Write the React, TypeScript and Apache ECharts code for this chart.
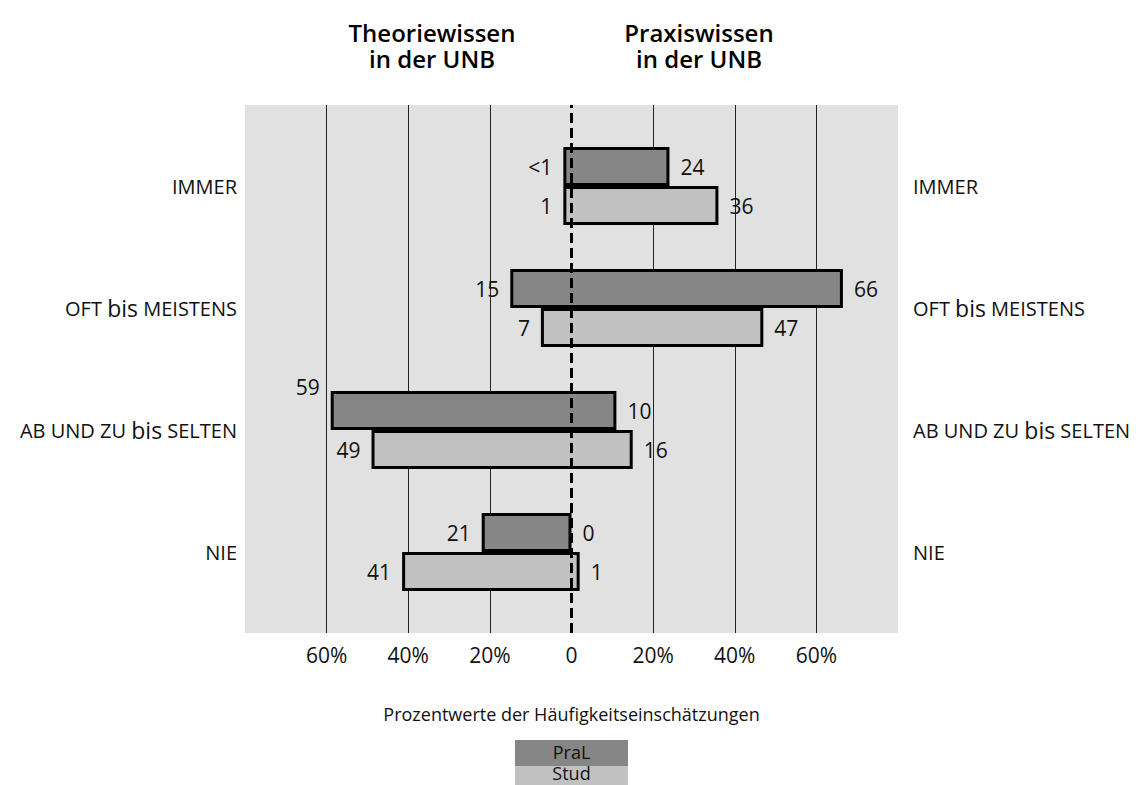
import React, { useEffect, useRef } from "react";
import * as echarts from "echarts";

// ---------- data ----------
const categories = ["IMMER", "OFT bis MEISTENS", "AB UND ZU bis SELTEN", "NIE"];
const groups = ["PraL", "Stud"];
// Theoriewissen in der UNB (left side, percent, bar length as drawn)
const theoryPraL = [2, 15, 59, 22];
const theoryStud = [2, 7.5, 49, 41.5];
// Praxiswissen in der UNB (right side, percent, bar length as drawn)
const practicePraL = [24, 66.5, 11, 0];
const practiceStud = [36, 47, 15, 2];
// printed value labels
const theoryPraLLabels = ["<1", "15", "59", "21"];
const theoryStudLabels = ["1", "7", "49", "41"];
const practicePraLLabels = ["24", "66", "10", "0"];
const practiceStudLabels = ["36", "47", "16", "1"];
// axis
const gridTicks = [-60, -40, -20, 20, 40, 60];
const titleLines = [
  ["Theoriewissen", "in der UNB"],
  ["Praxiswissen", "in der UNB"],
];
const axisTitle = "Prozentwerte der Häufigkeitseinschätzungen";

// ---------- styles ----------
const FONT = "'Open Sans', 'Noto Sans', sans-serif";
const DARK = "#868686";
const LIGHT = "#c1c1c1";
const BG = "#e1e1e1";
const TXT = "#111";

const catLabel = (v: string) =>
  v
    .split(" bis ")
    .map((p) => `{c|${p}}`)
    .join("{c| }{b|bis}{c| }");

const catRich = {
  c: { fontSize: 20, fontFamily: FONT, color: TXT },
  b: { fontSize: 23, fontFamily: FONT, color: TXT },
};

const valueLabel = (pos: string, texts: string[]) => ({
  show: true,
  position: pos,
  distance: 11,
  fontSize: 21,
  fontFamily: FONT,
  color: TXT,
  formatter: (p: any) => texts[p.dataIndex],
});

function stackPair(
  name: string,
  stack: string,
  left: number[],
  right: number[],
  leftLabels: string[],
  rightLabels: string[],
  color: string,
  liftIndex: number | null
) {
  return [
    {
      name: name + " Theorie",
      type: "bar",
      xAxisIndex: 1,
      yAxisIndex: 1,
      stack,
      stackStrategy: "all",
      barWidth: 39,
      barGap: "0%",
      silent: true,
      z: 3,
      itemStyle: { color: "rgba(0,0,0,0)", borderWidth: 0 },
      label: valueLabel("left", leftLabels),
      data: left.map((v, i) =>
        i === liftIndex ? { value: -v, label: { offset: [0, -24] } } : -v
      ),
    },
    {
      name,
      type: "bar",
      xAxisIndex: 1,
      yAxisIndex: 1,
      stack,
      stackStrategy: "all",
      barWidth: 39,
      barGap: "0%",
      silent: true,
      z: 2,
      itemStyle: { color, borderColor: "#000", borderWidth: 3 },
      label: valueLabel("right", rightLabels),
      data: left.map((v, i) => v + right[i]),
    },
  ];
}

const titleX = [432, 699];

const option: any = {
  animation: false,
  backgroundColor: "#fff",
  textStyle: { fontFamily: FONT },
  grid: [
    {
      left: 245,
      right: 238,
      top: 105,
      bottom: 152,
      show: true,
      backgroundColor: BG,
      borderWidth: 0,
    },
    { left: 245, right: 238, top: 125, bottom: 172 },
  ],
  xAxis: [
    {
      gridIndex: 0,
      type: "value",
      min: -80,
      max: 80,
      interval: 20,
      axisLine: { show: false },
      axisTick: { show: false },
      splitLine: { show: false },
      axisLabel: {
        fontSize: 21,
        fontFamily: FONT,
        color: TXT,
        margin: 11,
        formatter: (v: number) =>
          Math.abs(v) === 80 ? "" : v === 0 ? "0" : Math.abs(v) + "%",
      },
      name: axisTitle,
      nameLocation: "middle",
      nameGap: 72,
      nameTextStyle: { fontSize: 18, fontFamily: FONT, color: TXT },
    },
    { gridIndex: 1, type: "value", min: -80, max: 80, show: false },
  ],
  yAxis: [
    { gridIndex: 0, type: "value", min: 0, max: 1, show: false },
    {
      gridIndex: 1,
      type: "category",
      data: categories,
      inverse: true,
      position: "left",
      axisLine: { show: false },
      axisTick: { show: false },
      splitLine: { show: false },
      axisLabel: { margin: 8, formatter: catLabel, rich: catRich },
    },
    {
      gridIndex: 1,
      type: "category",
      data: categories,
      inverse: true,
      position: "right",
      axisLine: { show: false },
      axisTick: { show: false },
      splitLine: { show: false },
      axisLabel: { margin: 15, formatter: catLabel, rich: catRich },
    },
  ],
  series: [
    {
      type: "line",
      xAxisIndex: 0,
      yAxisIndex: 0,
      data: [],
      silent: true,
      markLine: {
        silent: true,
        z: 1,
        symbol: "none",
        label: { show: false },
        lineStyle: { color: "#222", width: 1, type: "solid" },
        data: gridTicks.map((v) => ({ xAxis: v })),
      },
    },
    {
      type: "line",
      xAxisIndex: 0,
      yAxisIndex: 0,
      data: [],
      silent: true,
      markLine: {
        silent: true,
        z: 10,
        symbol: "none",
        label: { show: false },
        lineStyle: { color: "#000", width: 3, type: [10, 5] },
        data: [{ xAxis: 0 }],
      },
    },
    ...stackPair(
      groups[0],
      "pral",
      theoryPraL,
      practicePraL,
      theoryPraLLabels,
      practicePraLLabels,
      DARK,
      2
    ),
    ...stackPair(
      groups[1],
      "stud",
      theoryStud,
      practiceStud,
      theoryStudLabels,
      practiceStudLabels,
      LIGHT,
      null
    ),
  ],
  graphic: [
    ...titleLines.flatMap((lines, t) =>
      lines.map((line, k) => ({
        type: "text",
        x: titleX[t],
        y: k === 0 ? 32 : 58,
        style: {
          text: line,
          align: "center",
          verticalAlign: "middle",
          fontSize: 24,
          fontWeight: 600,
          lineHeight: 25,
          fontFamily: FONT,
          fill: "#000",
        },
      }))
    ),
    ...groups.map((g, i) => ({
      type: "group",
      x: 515,
      y: i === 0 ? 740 : 766,
      children: [
        {
          type: "rect",
          shape: { x: 0, y: 0, width: 113, height: i === 0 ? 26 : 19 },
          style: { fill: i === 0 ? DARK : LIGHT },
        },
        {
          type: "text",
          x: 56.5,
          y: i === 0 ? 12 : 7,
          style: {
            text: g,
            align: "center",
            verticalAlign: "middle",
            fontSize: 18,
            lineHeight: 17,
            fontFamily: FONT,
            fill: TXT,
          },
        },
      ],
    })),
  ],
};

export default function App() {
  const ref = useRef<HTMLDivElement>(null);
  useEffect(() => {
    const chart = echarts.init(ref.current!, null, { renderer: "svg" });
    chart.setOption(option);
    return () => chart.dispose();
  }, []);
  return (
    <div
      ref={ref}
      style={{
        position: "absolute",
        left: 0,
        top: 0,
        width: 1136,
        height: 785,
        background: "#fff",
      }}
    />
  );
}
